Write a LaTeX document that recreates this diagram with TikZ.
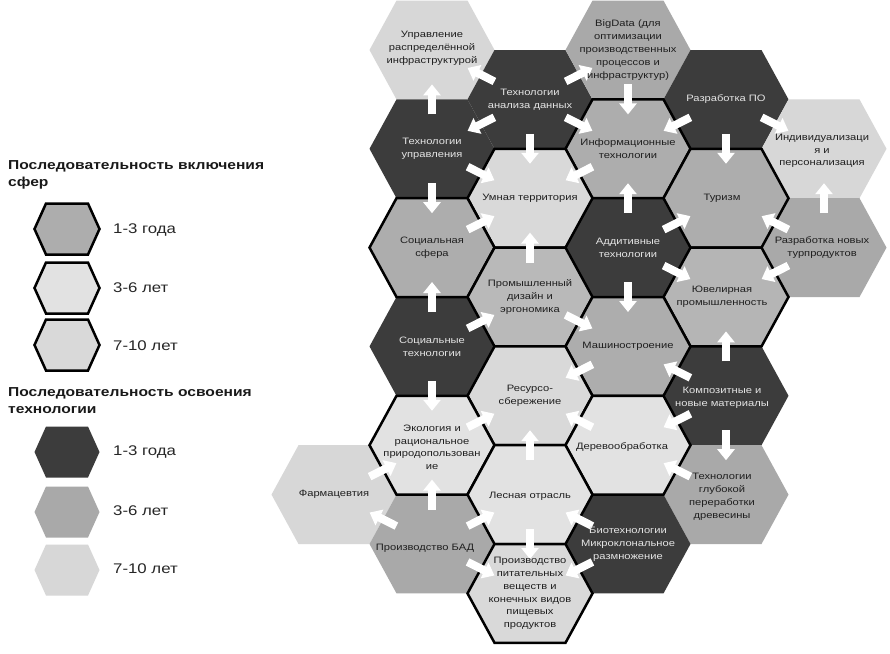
\documentclass[tikz,border=0pt]{standalone}
\usepackage{fontspec}
\setmainfont{Liberation Sans}
\newfontfamily\hexfont[FakeStretch=1.2]{Liberation Sans}
\usetikzlibrary{arrows.meta,calc}
\definecolor{tdark}{HTML}{3C3C3C}
\definecolor{tmed}{HTML}{A9A9A9}
\definecolor{tlight}{HTML}{D7D7D7}
\definecolor{smed}{HTML}{ADADAD}
\definecolor{slight}{HTML}{E2E2E2}
\definecolor{slighter}{HTML}{D9D9D9}
\newcommand\hexshape[2]{\path[#2] (#1) ++(-62.5,0) -- ++(27,-49.4) -- ++(71,0) -- ++(27,49.4) -- ++(-27,49.4) -- ++(-71,0) -- cycle;}
\newcommand\leghex[2]{\path[#2] (#1) ++(-32.5,0) -- ++(11.5,-25.5) -- ++(42,0) -- ++(11.5,25.5) -- ++(-11.5,25.5) -- ++(-42,0) -- cycle;}
\newcommand\hexarrow[2]{\draw[arr] ($(#1)!.5!(#2)!15pt!(#1)$) -- ($(#1)!.5!(#2)!15pt!(#2)$);}
\begin{document}
\begin{tikzpicture}[x=1pt,y=-1pt,
  techhex/.style={fill=#1},
  spherehex/.style={fill=#1, draw=black, line width=2.5pt, line join=miter},
  arr/.style={white, line width=8pt, -{Triangle[width=17pt,length=11pt]}},
  lbl/.style={font=\hexfont\fontsize{9.3}{12.8}\selectfont, align=center, text=black!88, inner sep=0pt},
  lbld/.style={lbl, text=white!90!black},
  legtitle/.style={font=\hexfont\bfseries\fontsize{13}{17}\selectfont, align=left, anchor=west, inner sep=0pt, text=black!90},
  leglbl/.style={font=\hexfont\fontsize{14}{16}\selectfont, anchor=west, inner sep=0pt, text=black!85}]
\useasboundingbox (0,0) rectangle (890,653);
\fill[white] (0,0) rectangle (890,653);
% centres
\coordinate (upr) at (432,50);
\coordinate (tad) at (530,99.4);
\coordinate (big) at (628,50);
\coordinate (tup) at (432,148.8);
\coordinate (rpo) at (726,99.4);
\coordinate (inf) at (628,148.8);
\coordinate (ind) at (824,148.8);
\coordinate (umn) at (530,198.2);
\coordinate (tur) at (726,198.2);
\coordinate (ssf) at (432,247.6);
\coordinate (add) at (628,247.6);
\coordinate (rnt) at (824,247.6);
\coordinate (pdz) at (530,297);
\coordinate (yuv) at (726,297);
\coordinate (stc) at (432,346.4);
\coordinate (mash) at (628,346.4);
\coordinate (res) at (530,395.8);
\coordinate (kom) at (726,395.8);
\coordinate (eko) at (432,445.2);
\coordinate (der) at (628,445.2);
\coordinate (far) at (334,494.6);
\coordinate (les) at (530,494.6);
\coordinate (tgp) at (726,494.6);
\coordinate (bad) at (432,544);
\coordinate (bio) at (628,544);
\coordinate (pit) at (530,593.4);
% technology hexes
\hexshape{upr}{techhex=tlight}
\hexshape{tad}{techhex=tdark}
\hexshape{big}{techhex=tmed}
\hexshape{tup}{techhex=tdark}
\hexshape{rpo}{techhex=tdark}
\hexshape{ind}{techhex=tlight}
\hexshape{add}{techhex=tdark}
\hexshape{rnt}{techhex=tmed}
\hexshape{stc}{techhex=tdark}
\hexshape{kom}{techhex=tdark}
\hexshape{far}{techhex=tlight}
\hexshape{tgp}{techhex=tmed}
\hexshape{bad}{techhex=tmed}
\hexshape{bio}{techhex=tdark}
% sphere hexes
\hexshape{inf}{spherehex=smed}
\hexshape{umn}{spherehex=slighter}
\hexshape{tur}{spherehex=smed}
\hexshape{ssf}{spherehex=smed}
\hexshape{pdz}{spherehex=smed!85!white}
\hexshape{yuv}{spherehex=smed!90!white}
\hexshape{mash}{spherehex=smed}
\hexshape{res}{spherehex=slighter}
\hexshape{eko}{spherehex=slight}
\hexshape{der}{spherehex=slight}
\hexshape{les}{spherehex=slight}
\hexshape{pit}{spherehex=slighter}
% arrows
\hexarrow{tad}{upr}
\hexarrow{tup}{upr}
\hexarrow{tad}{big}
\hexarrow{tad}{tup}
\hexarrow{tad}{umn}
\hexarrow{tad}{inf}
\hexarrow{tup}{umn}
\hexarrow{tup}{ssf}
\hexarrow{big}{inf}
\hexarrow{rpo}{inf}
\hexarrow{rpo}{ind}
\hexarrow{rpo}{tur}
\hexarrow{inf}{umn}
\hexarrow{add}{inf}
\hexarrow{rnt}{ind}
\hexarrow{add}{tur}
\hexarrow{rnt}{tur}
\hexarrow{add}{yuv}
\hexarrow{rnt}{yuv}
\hexarrow{add}{mash}
\hexarrow{pdz}{mash}
\hexarrow{kom}{yuv}
\hexarrow{kom}{mash}
\hexarrow{mash}{res}
\hexarrow{pdz}{umn}
\hexarrow{ssf}{umn}
\hexarrow{stc}{ssf}
\hexarrow{stc}{pdz}
\hexarrow{stc}{eko}
\hexarrow{eko}{res}
\hexarrow{les}{res}
\hexarrow{der}{res}
\hexarrow{far}{eko}
\hexarrow{bad}{eko}
\hexarrow{bad}{far}
\hexarrow{bad}{les}
\hexarrow{les}{pit}
\hexarrow{bad}{pit}
\hexarrow{bio}{les}
\hexarrow{bio}{pit}
\hexarrow{kom}{der}
\hexarrow{kom}{tgp}
\hexarrow{tgp}{der}
% labels
\node[lbl] (upr-t) at ($(upr)+(0,-2)$) {Управление\\распределённой\\инфраструктурой};
\node[lbld] (tad-t) at (tad) {Технологии\\анализа данных};
\node[lbl] (big-t) at (big) {BigData (для\\оптимизации\\производственных\\процессов и\\инфраструктур)};
\node[lbld] (tup-t) at (tup) {Технологии\\управления};
\node[lbld] (rpo-t) at (rpo) {Разработка ПО};
\node[lbl] (inf-t) at (inf) {Информационные\\технологии};
\node[lbl] (ind-t) at ($(ind)+(-2,2)$) {Индивидуализаци\\я и\\персонализация};
\node[lbl] (umn-t) at (umn) {Умная территория};
\node[lbl] (tur-t) at ($(tur)+(-4,0)$) {Туризм};
\node[lbl] (ssf-t) at (ssf) {Социальная\\сфера};
\node[lbld] (add-t) at (add) {Аддитивные\\технологии};
\node[lbl] (rnt-t) at ($(rnt)+(-2,0)$) {Разработка новых\\турпродуктов};
\node[lbl] (pdz-t) at (pdz) {Промышленный\\дизайн и\\эргономика};
\node[lbl] (yuv-t) at ($(yuv)+(-4,0)$) {Ювелирная\\промышленность};
\node[lbld] (stc-t) at (stc) {Социальные\\технологии};
\node[lbl] (mash-t) at (mash) {Машиностроение};
\node[lbl] (res-t) at (res) {Ресурсо-\\сбережение};
\node[lbld] (kom-t) at ($(kom)+(-4,2)$) {Композитные и\\новые материалы};
\node[lbl] (eko-t) at ($(eko)+(0,2)$) {Экология и\\рациональное\\природопользован\\ие};
\node[lbl] (der-t) at ($(der)+(-6,2)$) {Деревообработка};
\node[lbl] (far-t) at (far) {Фармацевтия};
\node[lbl] (les-t) at ($(les)+(0,2)$) {Лесная отрасль};
\node[lbl] (tgp-t) at ($(tgp)+(-4,2)$) {Технологии\\глубокой\\переработки\\древесины};
\node[lbl] (bad-t) at ($(bad)+(-7,4)$) {Производство БАД};
\node[lbld] (bio-t) at (bio) {Биотехнологии\\Микроклональное\\размножение};
\node[lbl] (pit-t) at (pit) {Производство\\питательных\\веществ и\\конечных видов\\пищевых\\продуктов};
% legend
\node[legtitle] (lt1) at (8,175) {Последовательность включения\\сфер};
\coordinate (l1) at (67,229);
\coordinate (l2) at (67,288);
\coordinate (l3) at (67,345);
\leghex{l1}{spherehex=smed}
\leghex{l2}{spherehex=slight}
\leghex{l3}{spherehex=slighter}
\node[leglbl] (l1-t) at (113,230) {1-3 года};
\node[leglbl] (l2-t) at (113,288) {3-6 лет};
\node[leglbl] (l3-t) at (113,346) {7-10 лет};
\node[legtitle] (lt2) at (8,401) {Последовательность освоения\\технологии};
\coordinate (l4) at (67,452);
\coordinate (l5) at (67,512);
\coordinate (l6) at (67,570);
\leghex{l4}{techhex=tdark}
\leghex{l5}{techhex=tmed}
\leghex{l6}{techhex=tlight}
\node[leglbl] (l4-t) at (113,452) {1-3 года};
\node[leglbl] (l5-t) at (113,511) {3-6 лет};
\node[leglbl] (l6-t) at (113,569) {7-10 лет};
\end{tikzpicture}
\end{document}
